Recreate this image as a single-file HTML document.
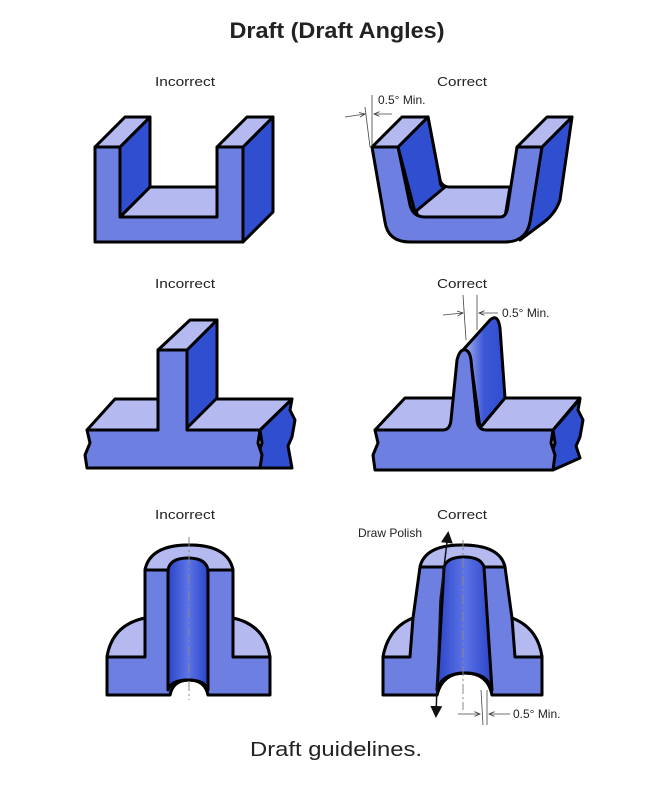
<!DOCTYPE html>
<html><head><style>
html,body{margin:0;padding:0;background:#fff;}
svg{display:block;font-family:"Liberation Sans",Arial,sans-serif;}
</style></head><body>
<svg width="650" height="785" viewBox="0 0 650 785" xmlns="http://www.w3.org/2000/svg">
<defs>
<linearGradient id="bore" x1="0" x2="1" y1="0" y2="0">
<stop offset="0" stop-color="#2a44c8"/><stop offset="0.5" stop-color="#5d74e6"/><stop offset="1" stop-color="#2a44c8"/></linearGradient>
<linearGradient id="fade" x1="0" x2="1" y1="0" y2="0">
<stop offset="0" stop-color="#b0b7f0"/><stop offset="0.5" stop-color="#3b57d6"/><stop offset="1" stop-color="#2f4fd0"/></linearGradient>
<marker id="ar" markerWidth="8" markerHeight="8" refX="7" refY="4" orient="auto"><path d="M0,1 L7,4 L0,7" fill="none" stroke="#333" stroke-width="1"/></marker>
<marker id="ab" markerWidth="8" markerHeight="8" refX="6" refY="4" orient="auto"><path d="M0,0 L8,4 L0,8Z" fill="#111"/></marker>
</defs>
<g fill="#222" text-anchor="middle">
<text x="337" y="38" font-size="22" font-weight="bold" textLength="215" lengthAdjust="spacingAndGlyphs">Draft (Draft Angles)</text>
<text x="185" y="86" font-size="13" textLength="60" lengthAdjust="spacingAndGlyphs">Incorrect</text>
<text x="462" y="86" font-size="13" textLength="50" lengthAdjust="spacingAndGlyphs">Correct</text>
<text x="185" y="288" font-size="13" textLength="60" lengthAdjust="spacingAndGlyphs">Incorrect</text>
<text x="462" y="288" font-size="13" textLength="50" lengthAdjust="spacingAndGlyphs">Correct</text>
<text x="185" y="519" font-size="13" textLength="60" lengthAdjust="spacingAndGlyphs">Incorrect</text>
<text x="462" y="519" font-size="13" textLength="50" lengthAdjust="spacingAndGlyphs">Correct</text>
<text x="336" y="756" font-size="20" textLength="172" lengthAdjust="spacingAndGlyphs">Draft guidelines.</text>
</g>
<g stroke="#000" stroke-width="3" stroke-linejoin="round">
<!-- Row1 incorrect U -->
<path d="M243,147 L273,117 L273,212 L243,242Z" fill="#2f4fd0"/>
<path d="M120,217 L150,187 L217,187 L217,217Z" fill="#b4baf0"/>
<path d="M120,147 L150,117 L150,187 L120,217Z" fill="#2f4fd0"/>
<path d="M95,147 L125,117 L150,117 L120,147Z" fill="#b4baf0"/>
<path d="M217,147 L247,117 L273,117 L243,147Z" fill="#b4baf0"/>
<path d="M95,147 L120,147 L120,217 L217,217 L217,147 L243,147 L243,242 L95,242Z" fill="#6d7fe0"/>
<!-- Row1 correct U -->
<path d="M542,147 L572,117 L560,200 Q555,215 540,225 L520,240 Z" fill="#2f4fd0"/>
<path d="M410,212 Q408,217 418,217 L505,217 Q510,210 512,187 L440,187 Z" fill="url(#fade)"/>
<path d="M398,147 L428,117 L440,180 Q442,187 450,187 L510,187 L505,217 L418,217Z" fill="#b4baf0"/>
<path d="M398,147 L428,117 L440,180 Q440,187 445,187 L415,212Z" fill="#2f4fd0"/>
<path d="M372,147 L402,117 L428,117 L398,147Z" fill="#b4baf0"/>
<path d="M517,147 L547,117 L572,117 L542,147Z" fill="#b4baf0"/>
<path d="M372,147 L398,147 L410,205 Q413,217 425,217 L500,217 Q507,217 508,205 L517,147 L542,147 L530,222 Q526,242 505,242 L410,242 Q388,242 385,222Z" fill="#6d7fe0"/>
<!-- Row2 incorrect T -->
<path d="M260,430 L292,399 L290,410 L295,420 L292,437 L288,446 L292,468 L260,468 L258,455 L262,443Z" fill="#2f4fd0"/>
<path d="M87,430 L115,399 L292,399 L260,430Z" fill="#b4baf0"/>
<path d="M187,350 L217,320 L217,398 L187,428Z" fill="#2f4fd0"/>
<path d="M158,350 L190,320 L217,320 L187,350Z" fill="#b4baf0"/>
<path d="M87,430 L158,430 L158,350 L187,350 L187,430 L260,430 L258,443 L262,455 L260,468 L87,468 L85,455 L90,443Z" fill="#6d7fe0"/>
<!-- Row2 correct T -->
<path d="M553,430 L580,399 L578,410 L583,420 L580,437 L576,446 L580,458 L553,470 L551,455 L555,443Z" fill="#2f4fd0"/>
<path d="M375,430 L405,398 L580,398 L553,430Z" fill="#b4baf0"/>
<path d="M463,350 L490,320 Q498,313 500,328 L505,398 L480,428 L472,370 Z" fill="url(#fade)"/>
<path d="M375,430 L443,430 Q450,430 451,420 L457,360 Q460,348 466,350 Q470,352 471,360 L477,420 Q478,430 486,430 L553,430 L551,443 L555,455 L553,470 L375,470 L373,455 L378,443Z" fill="#6d7fe0"/>
<!-- Row3 incorrect -->
<path d="M145,570 Q150,545 189,545 Q228,545 233,570 L233,618 Q265,625 270,657 L270,695 L208,695 Q205,680 189,680 Q173,680 170,695 L107,695 L107,657 Q112,625 145,618Z" fill="#6d7fe0"/>
<path d="M145,570 Q150,545 189,545 Q228,545 233,570Z" fill="#b4baf0"/>
<path d="M145,618 Q112,625 107,657 L145,657Z M233,618 Q265,625 270,657 L233,657Z" fill="#b4baf0"/>
<path d="M168,690 L168,570 Q170,558 188,558 Q206,558 208,570 L208,690 Q205,680 188,680 Q171,680 168,690Z" fill="url(#bore)"/>
<path d="M107,695 L170,695 Q173,680 189,680 Q205,680 208,695 L270,695" fill="none"/>
<!-- Row3 correct -->
<path d="M420,567 Q425,545 462,545 Q500,545 505,567 L512,618 Q538,628 542,657 L542,695 L492,695 Q488,673 465,673 Q442,673 437,695 L383,695 L383,657 Q388,628 413,618Z" fill="#6d7fe0"/>
<path d="M420,567 Q425,545 462,545 Q500,545 505,567Z" fill="#b4baf0"/>
<path d="M413,618 Q388,628 383,657 L410,657Z M512,618 Q538,628 542,657 L515,657Z" fill="#b4baf0"/>
<path d="M437,690 L444,567 Q447,557 464,557 Q481,557 484,567 L492,690 Q488,673 465,673 Q442,673 437,690Z" fill="url(#bore)"/>
<path d="M383,695 L437,695 Q442,673 465,673 Q488,673 492,695 L542,695" fill="none"/>
</g>
<g stroke="#888" stroke-width="1" stroke-dasharray="10,3,2,3" fill="none">
<line x1="189" y1="537" x2="189" y2="700"/>
<line x1="463" y1="540" x2="463" y2="710"/>
</g>
<g stroke="#444" stroke-width="0.8" fill="none">
<line x1="365" y1="107" x2="370" y2="147"/><line x1="372" y1="95" x2="372" y2="147"/>
<line x1="345" y1="117" x2="365" y2="114" marker-end="url(#ar)"/><line x1="392" y1="114" x2="374" y2="114" marker-end="url(#ar)"/>
<line x1="463" y1="295" x2="466" y2="340"/><line x1="477" y1="295" x2="477" y2="330"/>
<line x1="443" y1="315" x2="463" y2="313" marker-end="url(#ar)"/><line x1="498" y1="313" x2="479" y2="313" marker-end="url(#ar)"/>
<line x1="481" y1="690" x2="483" y2="725"/><line x1="487" y1="690" x2="487" y2="725"/>
<line x1="458" y1="714" x2="480" y2="714" marker-end="url(#ar)"/><line x1="510" y1="714" x2="489" y2="714" marker-end="url(#ar)"/>
</g>
<g stroke="#111" stroke-width="1.5">
<line x1="440" y1="600" x2="448" y2="534" marker-end="url(#ab)"/>
<line x1="440" y1="600" x2="436" y2="715" marker-end="url(#ab)"/>
</g>
<g fill="#222" font-size="12">
<text x="378" y="104">0.5° Min.</text>
<text x="502" y="317">0.5° Min.</text>
<text x="513" y="718">0.5° Min.</text>
<text x="358" y="537">Draw Polish</text>
</g>
</svg>
</body></html>
